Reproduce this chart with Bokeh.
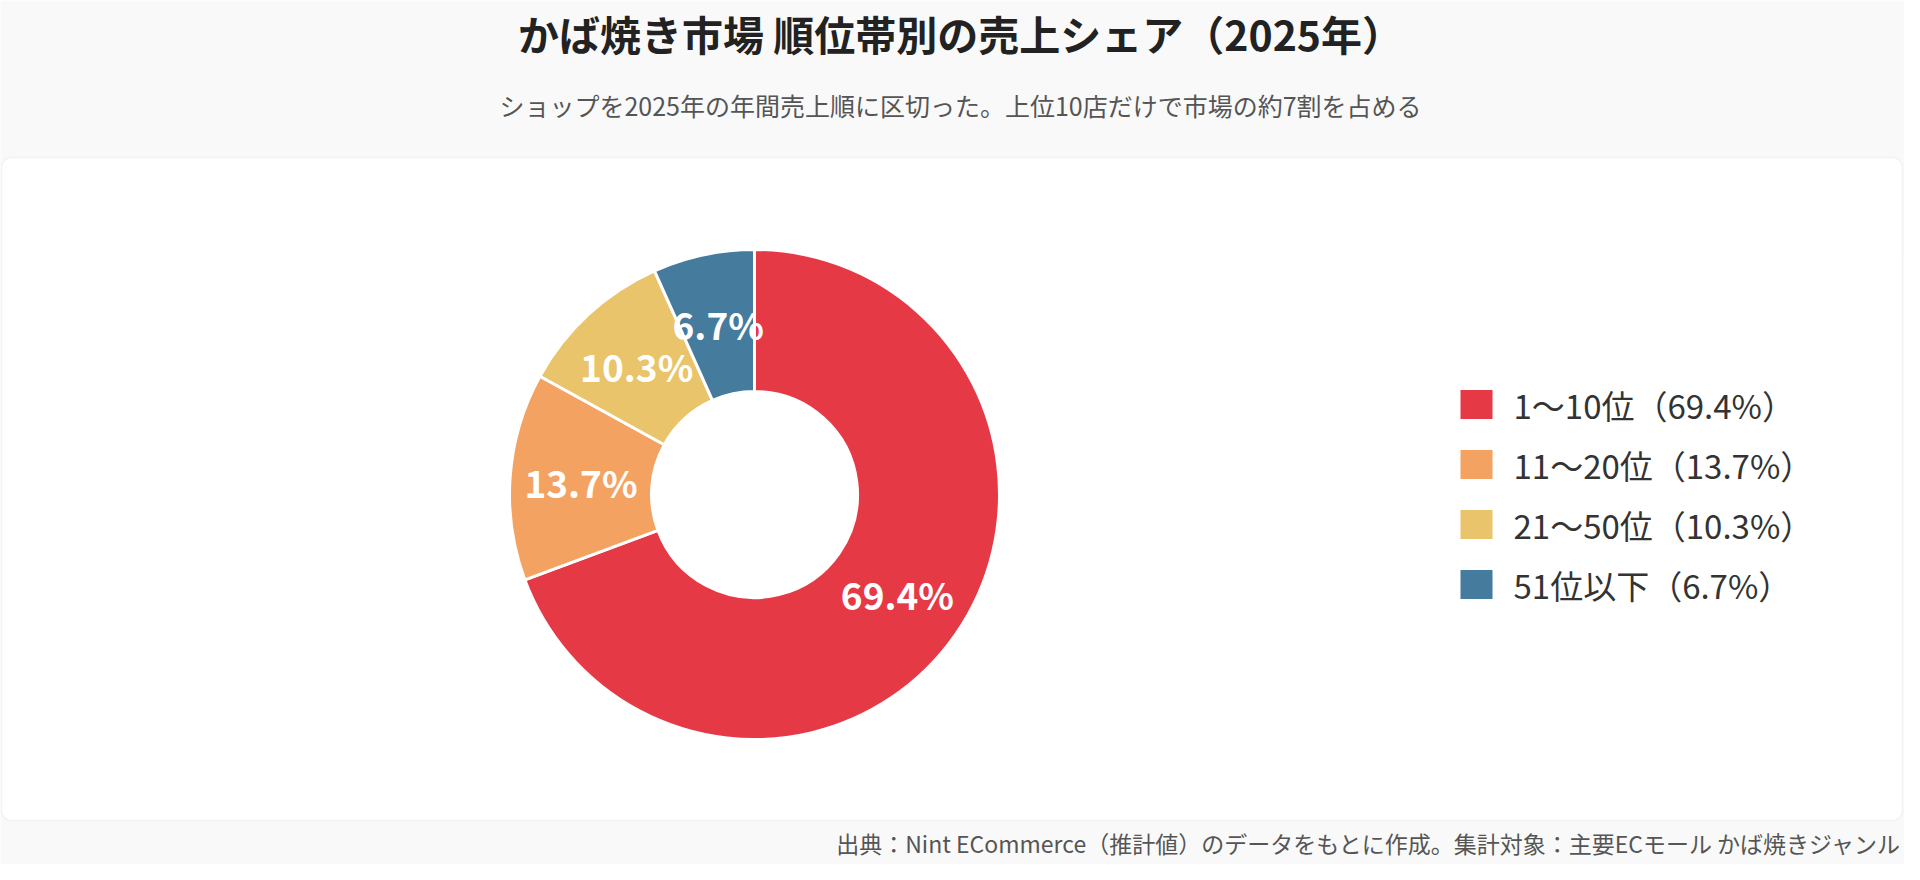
import math
from bokeh.plotting import figure
from bokeh.models import Range1d, BoxAnnotation
from bokeh.core.properties import value
from bokeh.embed import file_html
from bokeh.resources import INLINE

categories = ["1〜10位", "11〜20位", "21〜50位", "51位以下"]
shares = [69.4, 13.7, 10.3, 6.7]
colors = ["#E63946", "#F4A261", "#E9C46A", "#457B9D"]

title = "かば焼き市場 順位帯別の売上シェア（2025年）"
subtitle = "ショップを2025年の年間売上順に区切った。上位10店だけで市場の約7割を占める"
source_note = "出典：Nint ECommerce（推計値）のデータをもとに作成。集計対象：主要ECモール かば焼きジャンル"

FONT = value("Noto Sans CJK JP")
W, H = 1904, 864

p = figure(width=W, height=H, x_range=Range1d(0, W), y_range=Range1d(0, H),
           x_axis_type=None, y_axis_type=None, output_backend="svg",
           toolbar_location=None, min_border=0)
p.grid.visible = False
p.outline_line_color = None
p.background_fill_color = "#f9f9f9"
p.border_fill_color = "#f9f9f9"

# white card
card = BoxAnnotation(left=1, right=W - 2, bottom=44, top=707, fill_color="white", fill_alpha=1,
                     line_color="#dddddd", line_width=1.5, border_radius=10, level="underlay")
p.add_layout(card)

# titles
p.text([960], [832], text=[title], text_font=FONT, text_font_size="41px", text_font_style="bold",
       text_color="#222222", text_align="center", text_baseline="middle")
p.text([960], [760], text=[subtitle], text_font=FONT, text_font_size="25px",
       text_color="#555555", text_align="center", text_baseline="middle")
p.text([W - 3], [22], text=[source_note], text_font=FONT, text_font_size="23px",
       text_color="#555555", text_align="right", text_baseline="middle")

# donut
cx, cy = 754, 370
r_in, r_out = 103, 245
total = sum(shares)
starts, ends, lx, ly = [], [], [], []
cum = 0.0
for s in shares:
    a0 = math.pi / 2 - 2 * math.pi * cum / total
    cum += s
    a1 = math.pi / 2 - 2 * math.pi * cum / total
    starts.append(a0)
    ends.append(a1)
    mid = (a0 + a1) / 2
    rm = (r_in + r_out) / 2
    lx.append(cx + rm * math.cos(mid))
    ly.append(cy + rm * math.sin(mid))

p.annular_wedge(x=cx, y=cy, inner_radius=r_in, outer_radius=r_out,
                start_angle=starts, end_angle=ends, direction="clock",
                fill_color=colors, line_color="white", line_width=3)

p.text(lx, ly, text=[f"{s}%" for s in shares], text_font=FONT, text_font_size="37px",
       text_font_style="bold", text_color="white", text_align="center", text_baseline="middle")

# legend
leg_y = [460 - 60 * i for i in range(len(categories))]
p.rect(x=[1476] * len(categories), y=leg_y, width=32, height=29, fill_color=colors, line_color=None)
p.text([1513] * len(categories), leg_y,
       text=[f"{c}（{s}%）" for c, s in zip(categories, shares)],
       text_font=FONT, text_font_size="33px", text_color="#333333",
       text_align="left", text_baseline="middle")

open("out.html", "w").write(file_html(p, INLINE))
